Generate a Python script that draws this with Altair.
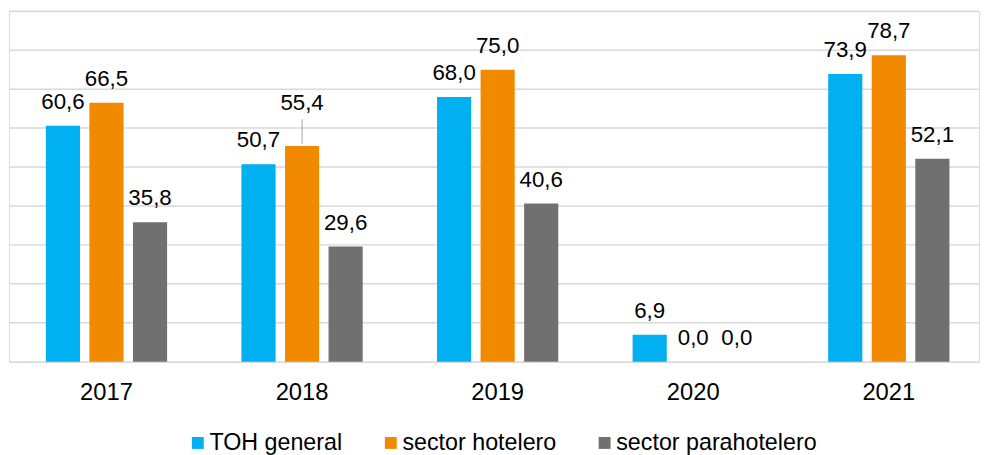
import altair as alt
import pandas as pd

years = ["2017", "2018", "2019", "2020", "2021"]
series = ["TOH general", "sector hotelero", "sector parahotelero"]
toh_general = [60.6, 50.7, 68.0, 6.9, 73.9]
sector_hotelero = [66.5, 55.4, 75.0, 0.0, 78.7]
sector_parahotelero = [35.8, 29.6, 40.6, 0.0, 52.1]
# extra lift (in value units) of a data label that was moved up with a leader line
lift_hotelero = [0.0, 4.8, 0.0, 0.0, 0.0]
colors = ["#00B0F0", "#F28A00", "#707070"]
grid_values = [10, 20, 30, 40, 50, 60, 70, 80, 90]

rows = []
for i, y in enumerate(years):
    for s, vals, lifts in [
        (series[0], toh_general, [0.0] * 5),
        (series[1], sector_hotelero, lift_hotelero),
        (series[2], sector_parahotelero, [0.0] * 5),
    ]:
        v = vals[i]
        rows.append({
            "year": y,
            "series": s,
            "value": v,
            "label": f"{v:.1f}".replace(".", ","),
            "label_y": v + lifts[i],
            "lift": lifts[i],
        })
df = pd.DataFrame(rows)
lead = df[df["lift"] > 0].copy()
lead["y1"] = lead["value"] + 0.5
lead["y2"] = lead["value"] + lead["lift"] + 2.1
grid_df = pd.DataFrame({"g": grid_values})

FONT = "Liberation Sans"

x_enc = alt.X(
    "year:N",
    sort=years,
    scale=alt.Scale(paddingInner=0.38, paddingOuter=0.1698, align=0.555),
    axis=alt.Axis(
        title=None, labelAngle=0, ticks=False, tickSize=0, labelPadding=19,
        labelFont=FONT, labelFontSize=24, labelColor="#000000",
        domainColor="#D9D9D9", domainWidth=1.5, grid=False,
    ),
)
xoff_enc = alt.XOffset(
    "series:N", sort=series,
    scale=alt.Scale(domain=series, paddingInner=0.216, paddingOuter=0),
)
y_scale = alt.Scale(domain=[0, 90], nice=False)

grid = alt.Chart(grid_df).mark_rule(color="#D9D9D9", strokeWidth=1.5).encode(
    y=alt.Y("g:Q", scale=y_scale, axis=None),
)

base = alt.Chart(df)

bars = base.mark_bar().encode(
    x=x_enc,
    xOffset=xoff_enc,
    y=alt.Y("value:Q", scale=y_scale, axis=None),
    color=alt.Color(
        "series:N", sort=series,
        scale=alt.Scale(domain=series, range=colors),
        legend=alt.Legend(
            title=None, orient="none", legendX=179, legendY=424,
            direction="horizontal", symbolType="square", symbolSize=144,
            symbolStrokeWidth=0, labelFont=FONT, labelFontSize=23.5,
            labelColor="#000000", columnPadding=37, labelOffset=0,
            labelLimit=0,
        ),
    ),
)

labels = base.mark_text(
    font=FONT, fontSize=22.5, color="#000000", baseline="alphabetic",
    align="center", dy=-17,
).encode(
    x=x_enc,
    xOffset=xoff_enc,
    y=alt.Y("label_y:Q", scale=y_scale, axis=None),
    text="label:N",
)

leader = alt.Chart(lead).mark_rule(color="#A6A6A6", strokeWidth=1).encode(
    x=x_enc,
    xOffset=xoff_enc,
    y=alt.Y("y1:Q", scale=y_scale, axis=None),
    y2="y2:Q",
)

chart = alt.layer(grid, bars, leader, labels).properties(
    width=980, height=354, padding=0,
).configure_view(stroke=None).configure(font=FONT)

chart.save("out.html", embed_options={"renderer": "svg", "actions": False})
